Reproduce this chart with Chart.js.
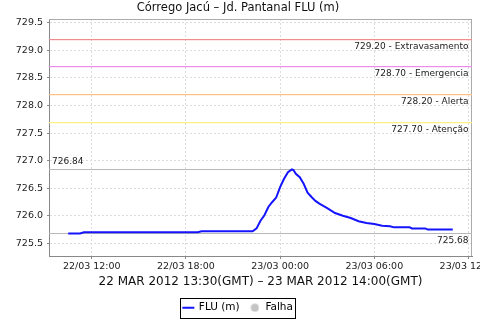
<!DOCTYPE html>
<html><head><meta charset="utf-8">
<script src="https://cdn.jsdelivr.net/npm/chart.js@4/dist/chart.umd.min.js"></script>
<style>html,body{margin:0;padding:0;background:#fff;overflow:hidden}#wrap{width:480px;height:320px;position:relative}</style>
</head><body><div id="wrap"><canvas id="c" width="480" height="320"></canvas></div>
<script>
// hours counted from 22/03/2012 00:00 (local)
const times = [10.5, 11.25, 11.5, 18.75, 19.0, 22.25, 22.5, 22.75, 23.0, 23.25, 23.5, 23.75, 24.0, 24.25, 24.5, 24.75, 24.85, 25.0, 25.25, 25.5, 25.75, 26.0, 26.25, 26.5, 26.75, 27.0, 27.5, 28.0, 28.5, 29.0, 29.5, 30.0, 30.5, 31.0, 31.25, 32.25, 32.4, 33.25, 33.4, 35.0];
const levels = [725.68, 725.68, 725.70, 725.70, 725.72, 725.72, 725.77, 725.91, 726.01, 726.16, 726.25, 726.33, 726.52, 726.67, 726.79, 726.84, 726.83, 726.76, 726.70, 726.58, 726.42, 726.34, 726.27, 726.22, 726.18, 726.14, 726.05, 726.00, 725.96, 725.90, 725.87, 725.85, 725.82, 725.81, 725.79, 725.79, 725.77, 725.77, 725.75, 725.75];
const thresholdValues = [729.20, 728.70, 728.20, 727.70];
const thresholdNames = ['Extravasamento', 'Emergencia', 'Alerta', 'Atenção'];
const thresholdColors = ['rgb(240,140,140)', 'rgb(236,140,236)', 'rgb(255,192,130)', 'rgb(255,238,130)'];
const xTickHours = [12, 18, 24, 30, 36];
const yTickValues = [725.5, 726.0, 726.5, 727.0, 727.5, 728.0, 728.5, 729.0, 729.5];
const seriesNames = ['FLU (m)', 'Falha'];
const chartTitle = 'Córrego Jacú – Jd. Pantanal FLU (m)';
const periodLabel = '22 MAR 2012 13:30(GMT) – 23 MAR 2012 14:00(GMT)';

Chart.defaults.font.family = "'DejaVu Sans', sans-serif";
Chart.defaults.color = '#222';

const pad2 = n => String(n).padStart(2, '0');
function fmtHour(v) {
  const day = 22 + Math.floor(v / 24);
  const h = Math.round(v - Math.floor(v / 24) * 24);
  return pad2(day) + '/03 ' + pad2(h) + ':00';
}

const dot = document.createElement('canvas');
dot.width = 9; dot.height = 9;
(function(){const g = dot.getContext('2d'); g.fillStyle = '#c4c4c4'; g.beginPath(); g.arc(4.5, 4.5, 4, 0, Math.PI * 2); g.fill();})();

const refPlugin = {
  id: 'refLines',
  beforeDatasetsDraw(chart) {
    const {ctx, chartArea: a, scales: {y}} = chart;
    ctx.save();
    ctx.setLineDash([]);
    ctx.lineWidth = 1;
    ctx.strokeStyle = '#aaa';
    ctx.beginPath();
    ctx.moveTo(a.left, a.top + 0.5); ctx.lineTo(a.right, a.top + 0.5);
    ctx.moveTo(a.right - 0.5, a.top); ctx.lineTo(a.right - 0.5, a.bottom);
    ctx.stroke();
    const vmax = Math.max(...levels), vmin = Math.min(...levels);
    ctx.strokeStyle = '#b8b8b8';
    const pmax = Math.round(y.getPixelForValue(vmax)) + 0.5;
    const pmin = Math.round(y.getPixelForValue(vmin)) + 0.5;
    ctx.beginPath();
    ctx.moveTo(a.left, pmax); ctx.lineTo(a.right, pmax);
    ctx.moveTo(a.left, pmin); ctx.lineTo(a.right, pmin);
    ctx.stroke();
    ctx.font = "9px 'DejaVu Sans'";
    ctx.textBaseline = 'middle';
    ctx.fillStyle = '#222';
    ctx.textAlign = 'left';
    ctx.fillText(vmax.toFixed(2), a.left + 3, pmax - 7.5);
    ctx.textAlign = 'right';
    ctx.fillText(vmin.toFixed(2), a.right - 3.5, pmin + 7.5);
    for (let i = 0; i < thresholdValues.length; i++) {
      const v = thresholdValues[i];
      const py = Math.floor(y.getPixelForValue(v));
      ctx.fillStyle = thresholdColors[i];
      ctx.fillRect(a.left, py, a.right - a.left, 1.2);
      ctx.fillStyle = '#222';
      ctx.textAlign = 'right';
      ctx.fillText(v.toFixed(2) + ' - ' + thresholdNames[i], a.right - 3.5, py + 8);
    }
    ctx.restore();
  },
  afterDraw(chart) {
    const hb = chart.legend && chart.legend.legendHitBoxes;
    if (!hb || !hb.length) return;
    const first = hb[0], last = hb[hb.length - 1];
    const l = Math.round(first.left - 3.5) + 0.5;
    const r = Math.round(last.left + last.width + 2) + 0.5;
    const t = Math.round(first.top - 5) + 0.5;
    const b = Math.round(first.top + first.height + 5) + 0.5;
    const ctx = chart.ctx;
    ctx.save();
    ctx.strokeStyle = '#000'; ctx.lineWidth = 1;
    ctx.strokeRect(l, t, r - l, b - t);
    ctx.restore();
  }
};

new Chart(document.getElementById('c'), {
  type: 'line',
  data: {
    datasets: [
      {label: seriesNames[0], data: times.map((t, i) => ({x: t, y: levels[i]})), borderColor: 'rgb(20,20,255)', backgroundColor: 'rgb(20,20,255)', borderWidth: 2, pointRadius: 0, tension: 0, fill: false},
      {label: seriesNames[1], data: [], borderColor: '#c4c4c4', backgroundColor: '#c4c4c4', pointRadius: 0}
    ]
  },
  options: {
    responsive: false, animation: false, devicePixelRatio: 1,
    layout: {padding: {left: 4, right: 8, top: 0, bottom: -3}},
    plugins: {
      title: {display: true, text: chartTitle, color: '#111', font: {size: 11.5, weight: 'normal'}, padding: {top: 1, bottom: 4.2}},
      legend: {
        position: 'bottom',
        labels: {
          usePointStyle: true, boxHeight: 8.5, padding: 10, color: '#000', font: {size: 10.5},
          generateLabels: () => [
            {text: seriesNames[0], pointStyle: 'line', strokeStyle: 'rgb(20,20,255)', fillStyle: 'rgb(20,20,255)', lineWidth: 2, hidden: false, datasetIndex: 0},
            {text: seriesNames[1], pointStyle: dot, strokeStyle: '#c4c4c4', fillStyle: '#c4c4c4', lineWidth: 0, hidden: false, datasetIndex: 1}
          ]
        }
      },
      tooltip: {enabled: false}
    },
    scales: {
      x: {
        type: 'linear', min: 9.275, max: 36.225,
        afterBuildTicks: s => { s.ticks = xTickHours.map(v => ({value: v})); },
        afterFit: s => { s.height = 36.5; s.paddingLeft = 0; s.paddingRight = 0; },
        ticks: {callback: v => fmtHour(v), font: {size: 9.5}, color: '#222', padding: 2, maxRotation: 0, autoSkip: false},
        grid: {color: '#dcdcdc', tickColor: '#888', tickLength: 3, drawTicks: true},
        border: {display: true, color: '#888', dash: [2, 2]},
        title: {display: true, text: periodLabel, font: {size: 12}, color: '#111', padding: {top: 0, bottom: 3.6}}
      },
      y: {
        type: 'linear', min: 725.27, max: 729.57,
        afterBuildTicks: s => { s.ticks = yTickValues.map(v => ({value: v})); },
        afterFit: s => { s.width = 45; s.paddingTop = 0; s.paddingBottom = 0; },
        ticks: {callback: v => Number(v).toFixed(1), font: {size: 9.5}, color: '#222', padding: 4},
        grid: {color: '#dcdcdc', tickColor: '#888', tickLength: 2, drawTicks: true},
        border: {display: true, color: '#888', dash: [2, 2]}
      }
    }
  },
  plugins: [refPlugin]
});
</script></body></html>
